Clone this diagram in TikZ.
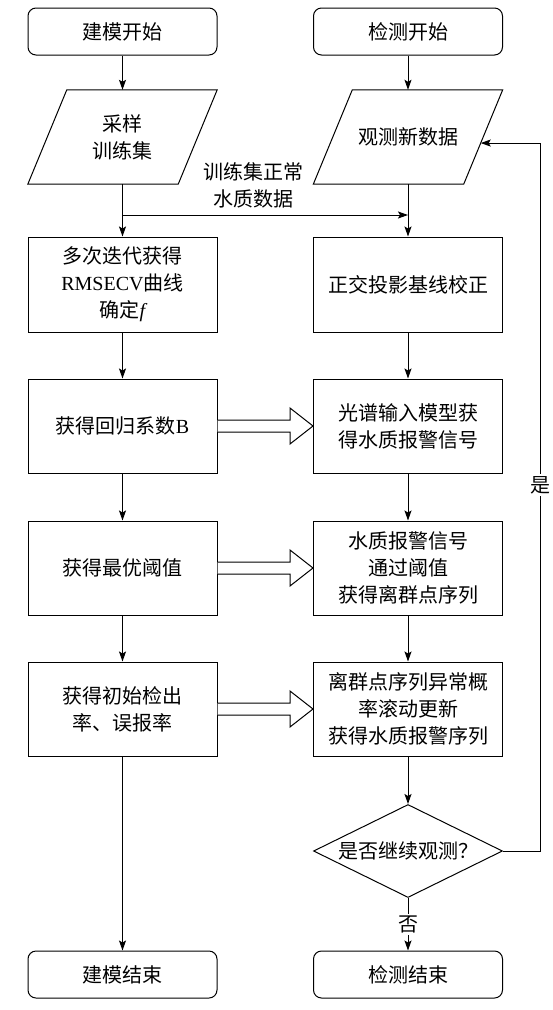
\documentclass[tikz,border=0pt]{standalone}
\usepackage{fontspec}
\setmainfont{Noto Sans CJK SC}
\newfontfamily\lat{Liberation Serif}
\usetikzlibrary{arrows.meta,calc,shapes.geometric}
\newcommand\hollowarr[2]{%
  \draw[line width=1pt,fill=white] ($(#1.east)+(0,-6)$) -- ($(#2.west)+(-23,-6)$) -- ($(#2.west)+(-23,-18)$) -- (#2.west) -- ($(#2.west)+(-23,18)$) -- ($(#2.west)+(-23,6)$) -- ($(#1.east)+(0,6)$);}
\begin{document}
\begin{tikzpicture}[x=1pt,y=-1pt,
  every node/.style={font=\fontsize{20}{27}\selectfont},
  box/.style={draw,line width=1pt,minimum width=189pt,minimum height=94pt,align=center,inner sep=0pt},
  term/.style={draw,line width=1pt,rounded corners=8pt,minimum width=189pt,minimum height=47pt,inner sep=0pt},
  para/.style={minimum width=189pt,minimum height=94pt,align=center,inner sep=0pt},
  dec/.style={draw,line width=1pt,diamond,aspect=2.03,minimum width=189pt,minimum height=93pt,inner sep=0pt},
  arr/.style={line width=1pt,-{Stealth[length=10pt,width=7pt,inset=2pt]}},
  lbl/.style={fill=white,inner sep=2pt}]
\useasboundingbox (0,0) rectangle (552,1010);
% left column
\node[term] (s1) at (122.5,31.5) {建模开始};
\node[para] (p1) at (122.5,137) {采样\\训练集};
\draw[line width=1pt] ($(p1.north west)+(39,0)$) -- (p1.north east) -- ($(p1.south east)+(-39,0)$) -- (p1.south west) -- cycle;
\node[box,minimum height=95pt] (b1) at (122.5,284.5) {多次迭代获得\\{\lat RMSECV}曲线\\确定{\lat\itshape f}};
\node[box] (b2) at (122.5,426) {获得回归系数{\lat B}};
\node[box] (b3) at (122.5,568) {获得最优阈值};
\node[box] (b4) at (122.5,709) {获得初始检出\\率、误报率};
\node[term] (e1) at (122.5,974.5) {建模结束};
% right column
\node[term] (s2) at (408,31.5) {检测开始};
\node[para] (p2) at (408,137) {观测新数据};
\draw[line width=1pt] ($(p2.north west)+(39,0)$) -- (p2.north east) -- ($(p2.south east)+(-39,0)$) -- (p2.south west) -- cycle;
\coordinate (p2fb) at ($(p2.north east)!0.564!($(p2.south east)+(-39,0)$)$);
\node[box,minimum height=95pt] (r1) at (408,284.5) {正交投影基线校正};
\node[box] (r2) at (408,426) {光谱输入模型获\\得水质报警信号};
\node[box] (r3) at (408,568) {水质报警信号\\通过阈值\\获得离群点序列};
\node[box] (r4) at (408,709) {离群点序列异常概\\率滚动更新\\获得水质报警序列};
\node[dec] (d) at (408,851) {是否继续观测？};
\node[term] (e2) at (408,974.5) {检测结束};
% connectors left
\draw[arr] (s1) -- (p1);
\draw[arr] (p1) -- (b1);
\draw[arr] (b1) -- (b2);
\draw[arr] (b2) -- (b3);
\draw[arr] (b3) -- (b4);
\draw[arr] (b4) -- (e1);
% connectors right
\draw[arr] (s2) -- (p2);
\draw[arr] (p2) -- (r1);
\draw[arr] (r1) -- (r2);
\draw[arr] (r2) -- (r3);
\draw[arr] (r3) -- (r4);
\draw[arr] (r4) -- (d);
\draw[arr] (d) -- node[lbl,pos=0.5]{否} (e2);
% merge
\coordinate (m1) at (122.5,215);
\coordinate (m2) at (408,215);
\draw[arr] (m1) -- (m2);
\node[align=center,inner sep=0pt] (ml) at (253,185) {训练集正常\\水质数据};
% feedback
\draw[arr] (d.east) -- ++(37,0) coordinate (fb1) -- (fb1 |- p2fb) node[lbl,pos=0.517]{是} -- (p2fb);
% hollow arrows
\hollowarr{b2}{r2}
\hollowarr{b3}{r3}
\hollowarr{b4}{r4}
\end{tikzpicture}
\end{document}
